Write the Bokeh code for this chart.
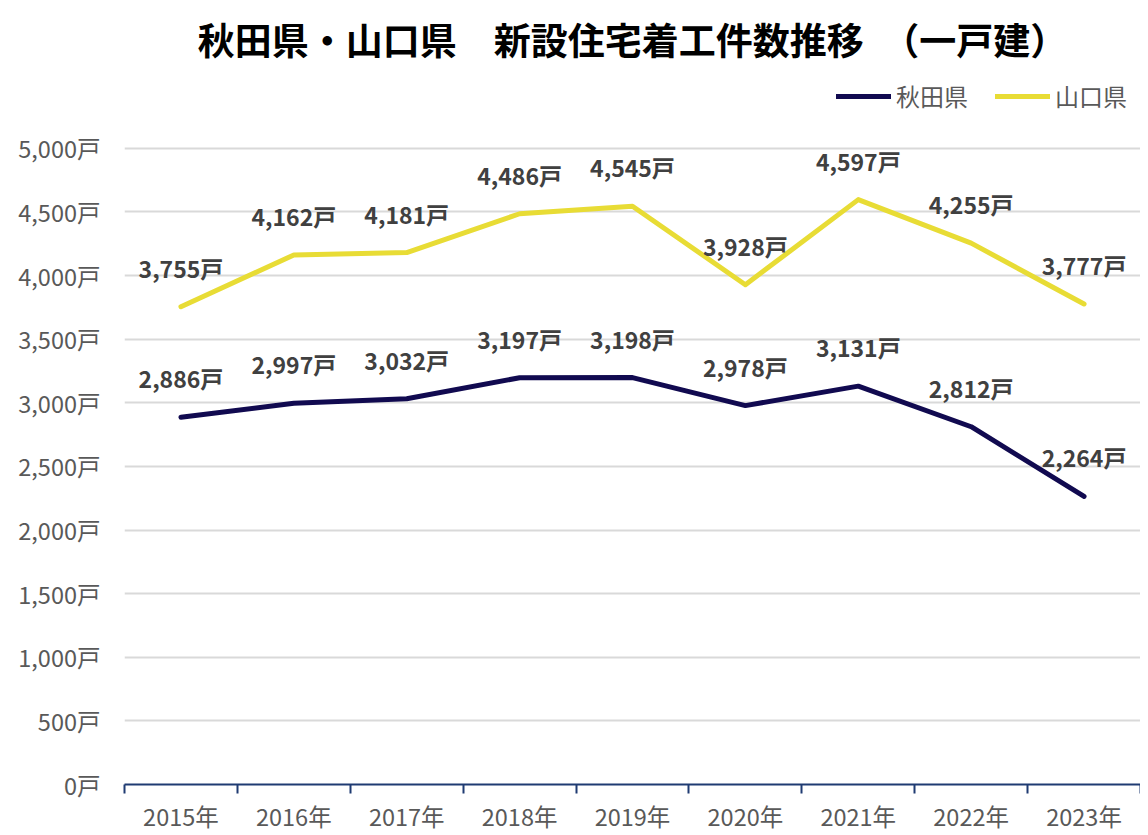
from bokeh.plotting import figure
from bokeh.models import ColumnDataSource, FixedTicker, Legend, LegendItem, LabelSet
from bokeh.core.properties import value
from bokeh.embed import file_html
from bokeh.resources import INLINE

years = ["2015年", "2016年", "2017年", "2018年", "2019年", "2020年", "2021年", "2022年", "2023年"]
akita = [2886, 2997, 3032, 3197, 3198, 2978, 3131, 2812, 2264]
yamaguchi = [3755, 4162, 4181, 4486, 4545, 3928, 4597, 4255, 3777]
y_ticks = [0, 500, 1000, 1500, 2000, 2500, 3000, 3500, 4000, 4500, 5000]

FONT = "Noto Sans CJK JP"
xs = [i + 0.5 for i in range(len(years))]

p = figure(width=1140, height=835, output_backend="svg", toolbar_location=None,
           x_range=(0, len(years)), y_range=(0, 5549),
           min_border_left=124, min_border_right=0, min_border_top=0, min_border_bottom=0)
p.title.text = "秋田県・山口県　新設住宅着工件数推移　（一戸建）"
p.title.align = "center"
p.title.vertical_align = "top"
p.title.text_font = FONT
p.title.text_font_size = "37px"
p.title.text_font_style = "bold"
p.title.text_color = "#000000"
p.title.standoff = 22

p.outline_line_color = None
p.background_fill_color = "white"
p.border_fill_color = "white"

# x axis
p.xaxis.ticker = FixedTicker(ticks=xs, minor_ticks=list(range(len(years) + 1)))
p.xaxis.major_label_overrides = {x: y for x, y in zip(xs, years)}
p.xaxis.major_tick_line_color = None
p.xaxis.minor_tick_in = 0
p.xaxis.minor_tick_out = 9
p.xaxis.minor_tick_line_color = "#1F3B72"
p.xaxis.minor_tick_line_width = 2
p.xaxis.axis_line_color = "#1F3B72"
p.xaxis.axis_line_width = 2
p.xaxis.major_label_text_font = FONT
p.xaxis.major_label_text_font_size = "23.5px"
p.xaxis.major_label_text_color = "#595959"
p.xaxis.major_label_standoff = 5
p.xgrid.grid_line_color = None

# y axis
p.yaxis.ticker = FixedTicker(ticks=y_ticks)
p.yaxis.major_label_overrides = {v: f"{v:,}戸" for v in y_ticks}
p.yaxis.axis_line_color = None
p.yaxis.major_tick_line_color = None
p.yaxis.minor_tick_line_color = None
p.yaxis.major_label_text_font = FONT
p.yaxis.major_label_text_font_size = "23.5px"
p.yaxis.major_label_text_color = "#595959"
p.yaxis.major_label_standoff = 18
p.ygrid.grid_line_color = "#D9D9D9"
p.ygrid.grid_line_width = 2

src = ColumnDataSource(dict(x=xs, akita=akita, yamaguchi=yamaguchi,
                            akita_lbl=[f"{v:,}戸" for v in akita],
                            yam_lbl=[f"{v:,}戸" for v in yamaguchi]))

r1 = p.line("x", "akita", source=src, line_color="#110A50", line_width=5, line_cap="round", line_join="round")
r2 = p.line("x", "yamaguchi", source=src, line_color="#E8DC35", line_width=5, line_cap="round", line_join="round")

for col, ycol in (("akita_lbl", "akita"), ("yam_lbl", "yamaguchi")):
    p.add_layout(LabelSet(x="x", y=ycol, text=col, source=src, y_offset=39,
                          text_align="center", text_baseline="middle",
                          text_font=value(FONT), text_font_size="23px",
                          text_font_style="bold", text_color="#404040"))

legend = Legend(items=[LegendItem(label="秋田県", renderers=[r1]),
                       LegendItem(label="山口県", renderers=[r2])],
                orientation="horizontal", location=(712, 671),
                label_text_font=FONT, label_text_font_size="24px", label_text_color="#595959",
                glyph_width=55, label_standoff=5, spacing=27, border_line_color=None,
                background_fill_alpha=0, margin=0, padding=4)
p.add_layout(legend)

open("out.html", "w").write(file_html(p, INLINE))
